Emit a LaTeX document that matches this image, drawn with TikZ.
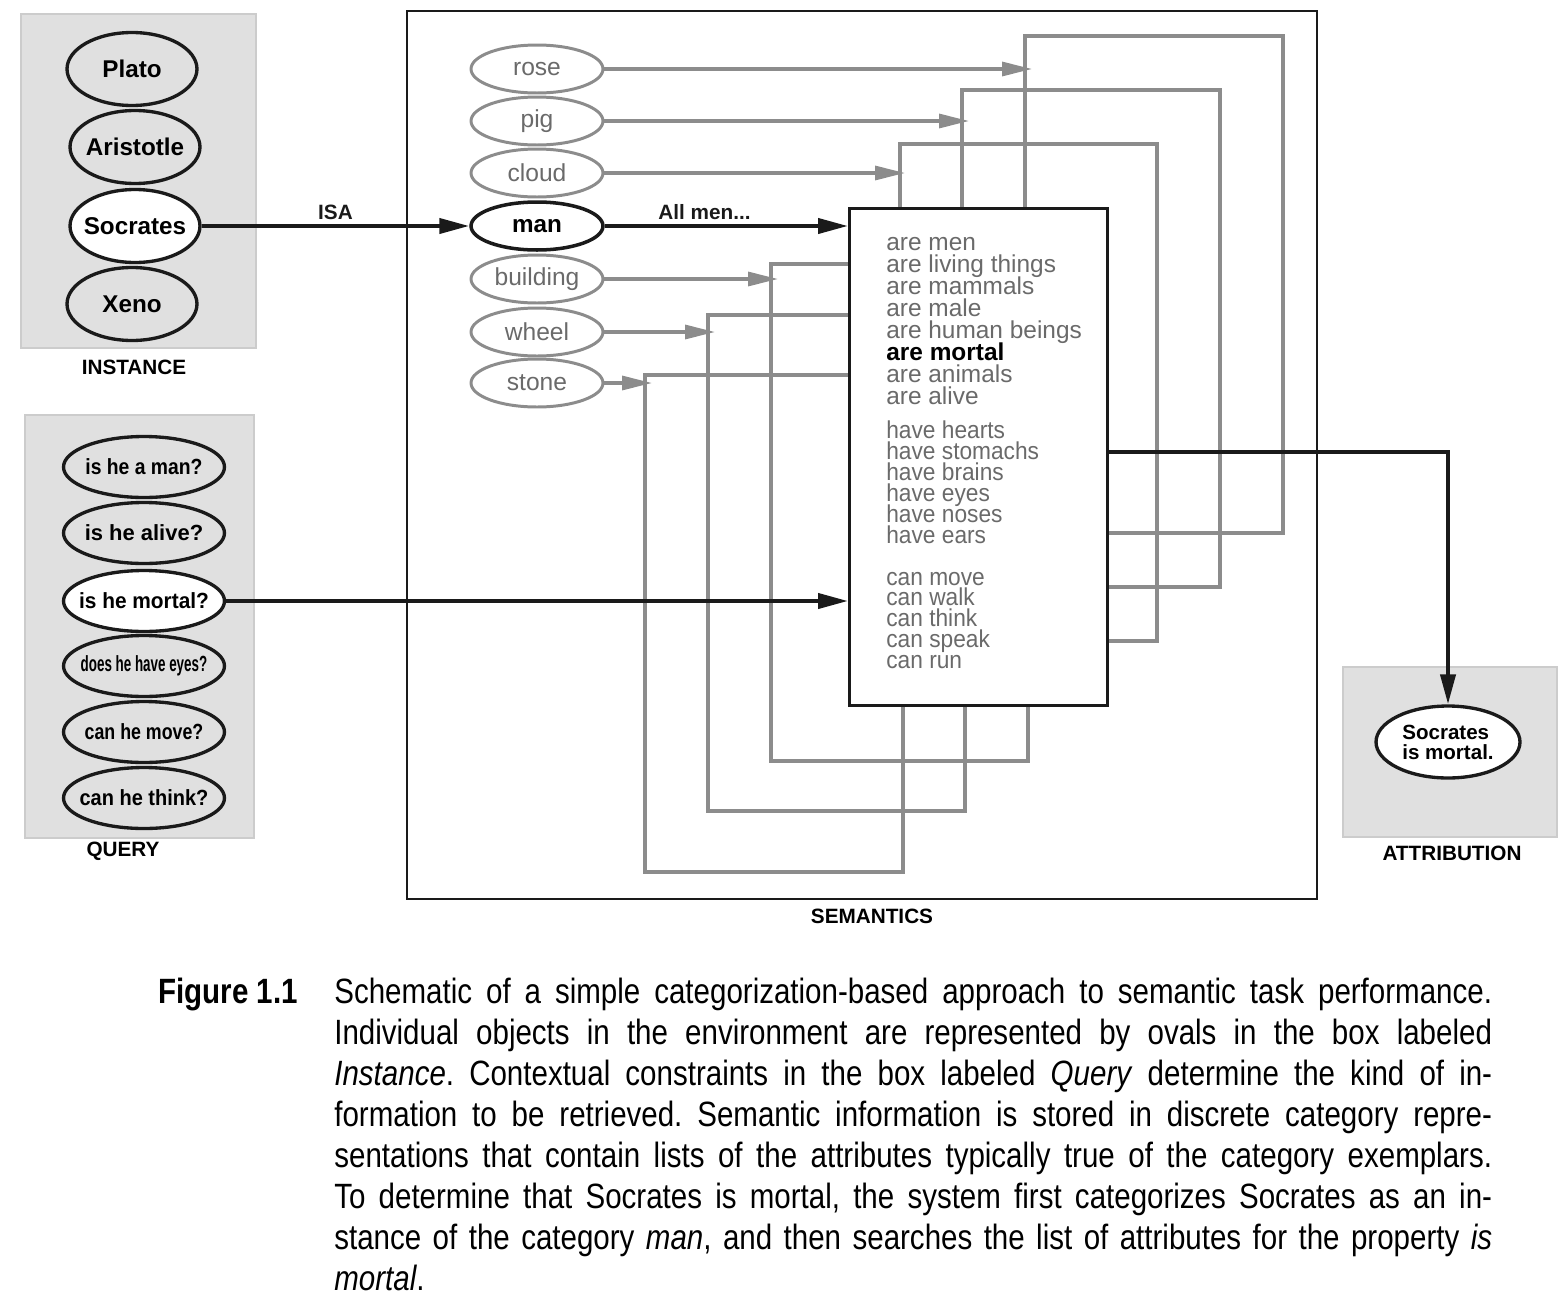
\documentclass[tikz,border=0pt]{standalone}
\usepackage{fontspec}
\usepackage{graphicx}
\setmainfont{Liberation Sans}
\newfontfamily\capfont{Liberation Sans}[FakeStretch=0.84]
\newfontfamily\narrowfont{Liberation Sans}[FakeStretch=0.93]
\usetikzlibrary{shapes,arrows.meta,positioning,calc,backgrounds}

\definecolor{boxgray}{HTML}{E0E0E0}
\definecolor{boxedge}{HTML}{CCCCCC}
\definecolor{linegray}{HTML}{8C8C8C}
\definecolor{textgray}{HTML}{6A6A6A}
\definecolor{inkblack}{HTML}{1A1A1A}

% keep the oval size fixed, whatever the width of its text
\newcommand{\ovaltext}[1]{\makebox[0pt]{#1}}

\tikzset{
  panel/.style={fill=boxgray, draw=boxedge, line width=1.6pt},
  inst/.style={ellipse, draw=inkblack, line width=1.9pt, fill=boxgray, minimum width=2.6cm, minimum height=1.46cm, inner sep=0pt, font=\fontsize{13.8}{14}\selectfont\bfseries},
  query/.style={ellipse, draw=inkblack, line width=1.9pt, fill=boxgray, minimum width=3.22cm, minimum height=1.22cm, inner sep=0pt, font=\fontsize{12.5}{13}\selectfont\bfseries},
  categ/.style={ellipse, draw=linegray, line width=1.7pt, text=textgray, minimum width=2.64cm, minimum height=0.96cm, inner sep=0pt, font=\fontsize{14}{15}\selectfont},
  boxlabel/.style={font=\fontsize{11.8}{12}\selectfont\bfseries},
  attrline/.style={anchor=base west, inner sep=0pt, text=textgray, font=\fontsize{13.9}{14}\selectfont},
  narrowline/.style={attrline, font=\narrowfont\fontsize{13.9}{14}\selectfont},
  main/.style={inkblack, line width=2.3pt, -{Triangle[length=0.6cm,width=0.3cm]}},
  feed/.style={linegray, line width=1.8pt, -{Triangle[length=0.6cm,width=0.28cm]}},
  wire/.style={linegray, line width=1.8pt},
}

\begin{document}
\begin{tikzpicture}[x=0.02cm, y=-0.02cm]
\useasboundingbox (0,0) rectangle (1568,1298);

% Instance panel
\draw[panel] (21,14) rectangle (256,348);
\node[inst] (plato) at (132,69) {\ovaltext{Plato}};
\node[inst] (aristotle) at (135,147) {\ovaltext{Aristotle}};
\node[inst, fill=white] (socrates) at (135,226) {\ovaltext{Socrates}};
\node[inst] (xeno) at (132,304) {\ovaltext{Xeno}};
\node[boxlabel] (instlabel) at (134,367) {INSTANCE};

% Query panel
\draw[panel] (25,415) rectangle (254,838);
\node[query] (qman) at (144,467) {\ovaltext{\scalebox{0.88}[1]{is he a man?}}};
\node[query] (qalive) at (144,533) {\ovaltext{is he alive?}};
\node[query, fill=white] (qmortal) at (144,601) {\ovaltext{\scalebox{0.95}[1]{is he mortal?}}};
\node[query] (qeyes) at (144,666) {\ovaltext{\scalebox{0.61}[1]{does he have eyes?}}};
\node[query] (qmove) at (144,732) {\ovaltext{\scalebox{0.81}[1]{can he move?}}};
\node[query] (qthink) at (144,798) {\ovaltext{\scalebox{0.91}[1]{can he think?}}};
\node[boxlabel] (querylabel) at (123,851) {QUERY};

% Attribution panel
\draw[panel] (1343,667) rectangle (1557,837);
\node[ellipse, draw=inkblack, line width=1.9pt, fill=white, minimum width=2.88cm, minimum height=1.44cm, inner sep=0pt, align=left, font=\fontsize{11.7}{11.3}\selectfont\bfseries] (verdict) at (1448,742) {Socrates\\is mortal.};
\node[boxlabel] (attrlabel) at (1452,853) {ATTRIBUTION};

% Semantics
\draw[inkblack, line width=1.3pt] (407,11) rectangle (1317,899);
\node[boxlabel] (semlabel) at (872,916) {SEMANTICS};

\node[categ] (rose) at (537,69) {\ovaltext{rose}};
\node[categ] (pig) at (537,121) {\ovaltext{pig}};
\node[categ] (cloud) at (537,173) {\ovaltext{cloud}};
\node[categ, draw=inkblack, text=black, line width=2pt, font=\fontsize{13.8}{14}\selectfont\bfseries] (man) at (537,226) {\ovaltext{man}};
\node[categ] (building) at (537,279) {\ovaltext{building}};
\node[categ] (wheel) at (537,332) {\ovaltext{wheel}};
\node[categ] (stone) at (537,383) {\ovaltext{stone}};

% category box for man
\node[draw=inkblack, line width=1.9pt, fill=white, anchor=north west, minimum width=5.16cm, minimum height=9.94cm, inner sep=0pt] (attr) at (848,207) {};
\foreach \txt [count=\i from 0] in {are men, are living things, are mammals, are male, are human beings, {\bfseries\color{black}are mortal}, are animals, are alive}
  \node[attrline] (are\i) at (886,250+22*\i) {\txt};
\foreach \txt [count=\i from 0] in {have hearts, have stomachs, have brains, have eyes, have noses, have ears}
  \node[narrowline] (have\i) at (886,438+21*\i) {\txt};
\foreach \txt [count=\i from 0] in {can move, can walk, can think, can speak, can run}
  \node[narrowline] (can\i) at (886,585+20.8*\i) {\txt};

% feedback wires from the box to the other categories
\begin{scope}[on background layer]
  \draw[wire] (attr.east |- 0,533) -- (1283,533) -- (1283,36) -- (1025,36) -- (attr.north -| 1025,0);
  \draw[wire] (attr.east |- 0,587) -- (1220,587) -- (1220,90) -- (962,90) -- (attr.north -| 962,0);
  \draw[wire] (attr.east |- 0,641) -- (1157,641) -- (1157,144) -- (900,144) -- (attr.north -| 900,0);
  \draw[wire] (attr.south -| 1028,0) -- (1028,761) -- (771,761) -- (771,264) -- (attr.west |- 0,264);
  \draw[wire] (attr.south -| 965,0) -- (965,811) -- (708,811) -- (708,315) -- (attr.west |- 0,315);
  \draw[wire] (attr.south -| 903,0) -- (903,872) -- (645,872) -- (645,375) -- (attr.west |- 0,375);
\end{scope}

\coordinate (rosein) at (rose.east -| 1032,0);
\coordinate (pigin) at (pig.east -| 969,0);
\coordinate (cloudin) at (cloud.east -| 905,0);
\coordinate (buildin) at (building.east -| 778,0);
\coordinate (wheelin) at (wheel.east -| 715,0);
\coordinate (stonein) at (stone.east -| 652,0);
\draw[feed] (rose.east) -- (rosein);
\draw[feed] (pig.east) -- (pigin);
\draw[feed] (cloud.east) -- (cloudin);
\draw[feed] (building.east) -- (buildin);
\draw[feed] (wheel.east) -- (wheelin);
\draw[feed] (stone.east) -- (stonein);

% main route
\draw[main] (socrates.east) -- node[above, boxlabel, yshift=-1pt] {ISA} (man.west);
\draw[main] (man.east) -- node[above, boxlabel, pos=0.41, yshift=-1pt] {All men...} (attr.west |- man.east);
\draw[main] (qmortal.east) -- (qmortal.east -| attr.west);
\draw[main] (attr.east |- 0,452) -| (verdict.north);

% caption
\node[anchor=base west, inner sep=0pt, font=\capfont\fontsize{20}{23.3}\selectfont\bfseries] (fignum) at (158,1003) {Figure 1.1};
\node[anchor=north west, inner sep=0pt, text width=23.16cm, align=justify, font=\capfont\fontsize{20}{23.3}\selectfont\frenchspacing] (caption) at (334,978) {Schematic of a simple categorization-based approach to semantic task performance.\linebreak
Individual objects in the environment are represented by ovals in the box labeled\linebreak
\textit{Instance}. Contextual constraints in the box labeled \textit{Query} determine the kind of in-\linebreak
formation to be retrieved. Semantic information is stored in discrete category repre-\linebreak
sentations that contain lists of the attributes typically true of the category exemplars.\linebreak
To determine that Socrates is mortal, the system first categorizes Socrates as an in-\linebreak
stance of the category \textit{man}, and then searches the list of attributes for the property \textit{is}\linebreak
\textit{mortal}.};

\end{tikzpicture}
\end{document}
